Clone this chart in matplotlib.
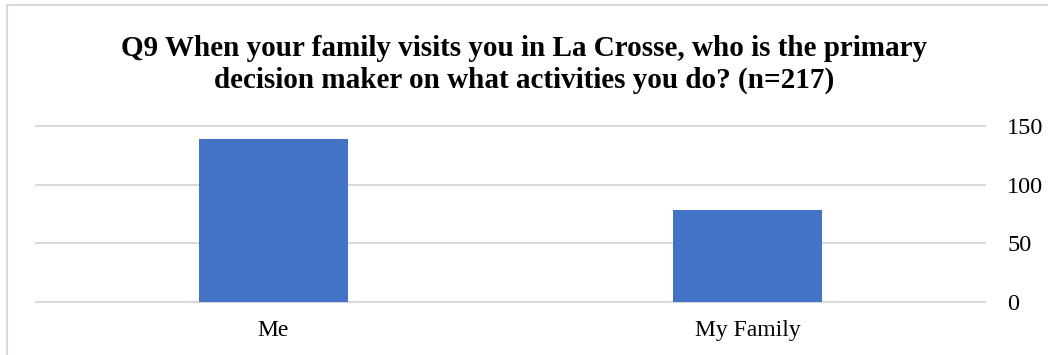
import numpy as np
import matplotlib.pyplot as plt
from matplotlib.patches import Rectangle

# respuestas Q9
categorie = ['Me', 'My Family']
conteggi = [139, 78]
tick_y = [0, 50, 100, 150]

plt.rcParams['font.family'] = 'Liberation Serif'

fig = plt.figure(figsize=(10.48, 3.55), dpi=100)
ax = fig.add_axes([36/1048, 1-302/355, (985-36)/1048, 176/355])

x = np.arange(len(categorie))
ax.bar(x, conteggi, width=0.314, color='#4472c4', zorder=3)

ax.set_xlim(-0.5, len(categorie)-0.5)
ax.set_ylim(0, 150)
ax.set_yticks(tick_y)
ax.set_xticks(x)
ax.set_xticklabels(categorie, fontsize=17)
ax.yaxis.tick_right()
ax.tick_params(axis='y', length=0, pad=16, labelsize=17.5)
ax.tick_params(axis='x', length=0, pad=13)
for lab in ax.get_yticklabels():
    lab.set_horizontalalignment('left')
ax.grid(axis='y', color='#d9d9d9', linewidth=1.5, zorder=0)
for g in ax.get_ygridlines():
    g.set_clip_on(False)
for s in ax.spines.values():
    s.set_visible(False)

fig.text(0.5, 1-48/355, 'Q9 When your family visits you in La Crosse, who is the primary',
         ha='center', va='center', fontsize=21, fontweight='bold')
fig.text(0.5, 1-80/355, 'decision maker on what activities you do? (n=217)',
         ha='center', va='center', fontsize=21, fontweight='bold')

# cornice grigia del grafico
fig.patches.append(Rectangle((6.5/1048, -0.1), 1.2, 1-5.5/355+0.1, transform=fig.transFigure,
                             fill=False, edgecolor='#d9d9d9', linewidth=1.6))

fig.savefig('out.png', dpi=100)
